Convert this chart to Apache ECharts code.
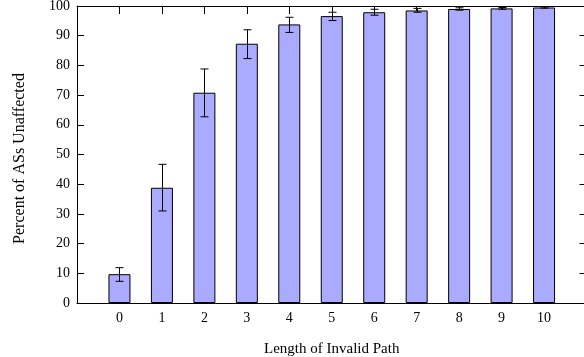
<!DOCTYPE html>
<html><head><meta charset="utf-8">
<script src="https://cdn.jsdelivr.net/npm/echarts@6/dist/echarts.min.js"></script>
<style>html,body{margin:0;padding:0;background:#fff}#c{width:584px;height:357px}</style>
</head><body><div id="c"></div>
<script>
const pathLengths = [0, 1, 2, 3, 4, 5, 6, 7, 8, 9, 10];
const percentUnaffected = [9.7, 38.8, 70.8, 87.3, 93.8, 96.6, 97.9, 98.5, 99.0, 99.2, 99.5];
const errorLow = [7.3, 31.0, 62.7, 82.3, 91.1, 95.1, 96.9, 97.9, 98.6, 98.9, 99.3];
const errorHigh = [11.9, 46.7, 78.8, 92.0, 96.2, 97.9, 98.9, 99.2, 99.4, 99.5, 99.7];
const xTitle = 'Length of Invalid Path';
const yTitle = 'Percent of ASs Unaffected';

const FONT = 'Liberation Serif';
const chart = echarts.init(document.getElementById('c'), null, {renderer: 'canvas'});
const lineStyle = {color: '#000', width: 1};
const xBase = {
  type: 'value', min: -1, max: 11, interval: 1,
  axisLine: {show: true, onZero: false, lineStyle},
  axisTick: {show: true, inside: true, length: 8, lineStyle},
  splitLine: {show: false}
};
const yBase = {
  type: 'value', min: 0, max: 100, interval: 10,
  axisLine: {show: true, onZero: false, lineStyle},
  axisTick: {show: true, inside: true, length: 7, lineStyle},
  splitLine: {show: false}
};
chart.setOption({
  animation: false,
  backgroundColor: '#fff',
  grid: {left: 77, top: 6, width: 509.5, height: 297, containLabel: false, outerBoundsMode: 'none'},
  xAxis: [
    Object.assign({}, xBase, {position: 'bottom',
      axisLabel: {show: true, margin: 8, color: '#000', fontFamily: FONT, fontSize: 14,
        formatter: v => (v >= 0 && v <= 10) ? String(v) : ''}}),
    Object.assign({}, xBase, {position: 'top', axisLabel: {show: false}})
  ],
  yAxis: [
    Object.assign({}, yBase, {position: 'left',
      axisLabel: {show: true, margin: 7, color: '#000', fontFamily: FONT, fontSize: 14}}),
    Object.assign({}, yBase, {position: 'right', axisLabel: {show: false}})
  ],
  series: [
    {
      type: 'bar', xAxisIndex: 0, yAxisIndex: 0,
      data: pathLengths.map((x, i) => [x, percentUnaffected[i]]),
      barWidth: 22,
      itemStyle: {color: '#aaaaff', borderColor: '#000', borderWidth: 1},
      z: 2
    },
    {
      type: 'custom', xAxisIndex: 0, yAxisIndex: 0,
      data: pathLengths.map((x, i) => [x, errorLow[i], errorHigh[i]]),
      z: 3,
      renderItem: function (params, api) {
        const x = api.value(0);
        const lo = api.coord([x, api.value(1)]);
        const hi = api.coord([x, api.value(2)]);
        const cx = Math.round(lo[0]) + 0.5;
        const hw = 4;
        const st = {stroke: '#000', lineWidth: 1};
        return {
          type: 'group',
          children: [
            {type: 'line', shape: {x1: cx, y1: hi[1], x2: cx, y2: lo[1]}, style: st},
            {type: 'line', shape: {x1: cx - hw, y1: hi[1], x2: cx + hw, y2: hi[1]}, style: st},
            {type: 'line', shape: {x1: cx - hw, y1: lo[1], x2: cx + hw, y2: lo[1]}, style: st}
          ]
        };
      }
    }
  ],
  graphic: [
    {type: 'text', x: 20, y: 158.5, rotation: Math.PI / 2,
      style: {text: yTitle, fontFamily: FONT, fontSize: 16, fill: '#000', align: 'center', verticalAlign: 'middle'}},
    {type: 'text', x: 331.7, y: 349,
      style: {text: xTitle, fontFamily: FONT, fontSize: 15, fill: '#000', align: 'center', verticalAlign: 'middle'}}
  ]
});
</script>
</body></html>
